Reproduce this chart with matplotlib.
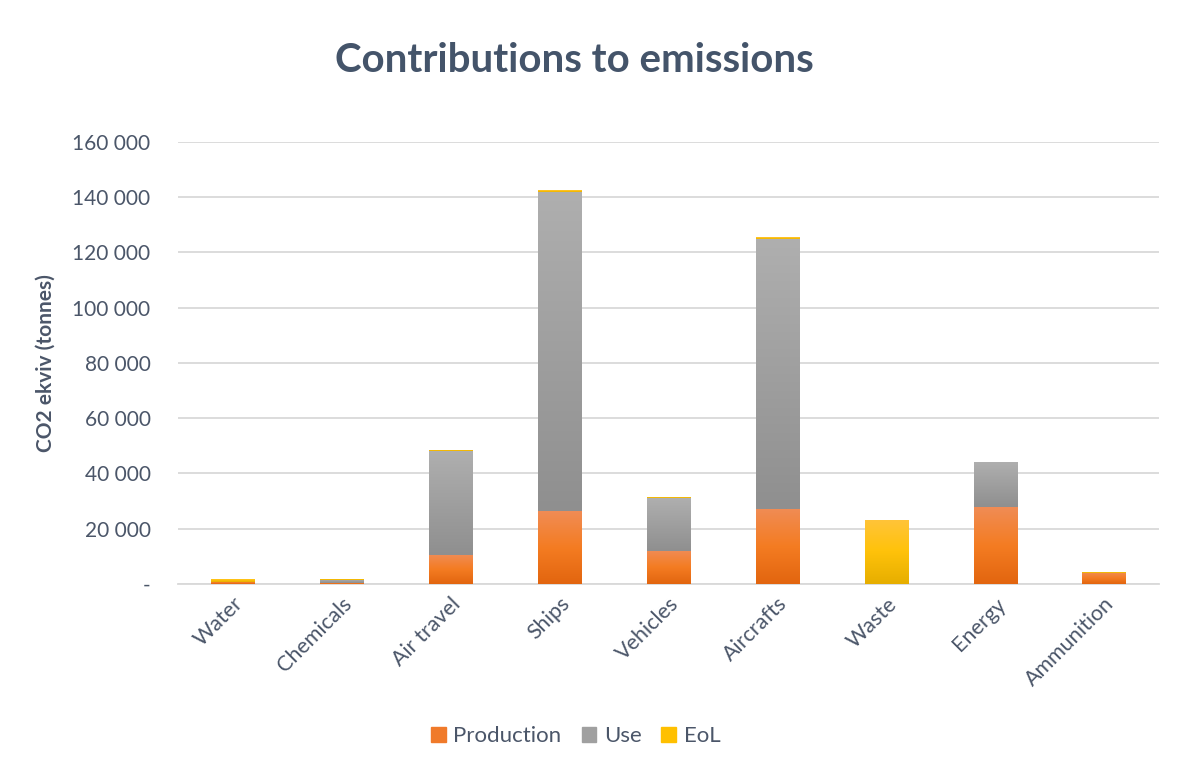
import numpy as np
import matplotlib
matplotlib.use("Agg")
import matplotlib.pyplot as plt
from matplotlib.ticker import FuncFormatter
from matplotlib.colors import LinearSegmentedColormap
from matplotlib.patches import Patch

categories = ["Water", "Chemicals", "Air travel", "Ships", "Vehicles",
              "Aircrafts", "Waste", "Energy", "Ammunition"]
production = [900, 400, 10500, 26400, 12100, 27300, 0, 27800, 4100]
use = [0, 1100, 37600, 115600, 19000, 97600, 0, 16200, 0]
eol = [1100, 500, 500, 500, 400, 500, 23200, 0, 400]

series = ["Production", "Use", "EoL"]
# (bottom, middle, top) colours of the Excel style gradient
grads = {
    "Production": ["#e2650f", "#f47c22", "#f08c55"],
    "Use": ["#8f8f8f", "#9f9f9f", "#afafaf"],
    "EoL": ["#e6ae00", "#ffc20a", "#ffc43a"],
}
solid = {"Production": "#f07a2a", "Use": "#a0a0a0", "EoL": "#ffc000"}
txt_col = "#4b5669"

plt.rcParams['font.family'] = ['Lato', 'DejaVu Sans']

fig = plt.figure(figsize=(11.97, 7.71), dpi=100)
ax = fig.add_axes([0.149, 0.2425, 0.819, 0.5735])

x = np.arange(len(categories))
w = 0.40
bottom = np.zeros(len(categories))
grad = np.linspace(0, 1, 256).reshape(-1, 1)
for name, vals in zip(series, [production, use, eol]):
    vals = np.array(vals, dtype=float)
    bars = ax.bar(x, vals, w, bottom=bottom, color=solid[name], zorder=2,
                  edgecolor="none")
    cmap = LinearSegmentedColormap.from_list(name, grads[name])
    for b in bars:
        h = b.get_height()
        if h <= 0:
            continue
        x0, y0 = b.get_x(), b.get_y()
        im = ax.imshow(grad, cmap=cmap, origin="lower", aspect="auto",
                       extent=[x0, x0 + b.get_width(), y0, y0 + h], zorder=3)
        im.set_clip_path(b)
    bottom += vals

ax.set_xlim(-0.5, len(categories) - 0.5)
ax.set_ylim(0, 160000)
ax.set_yticks(np.arange(0, 160001, 20000))
ax.yaxis.set_major_formatter(FuncFormatter(
    lambda v, p: "-" if v == 0 else f"{int(v):,}".replace(",", " ")))
ax.grid(axis="y", color="#d9d9d9", linewidth=1.3, zorder=0)
ax.set_axisbelow(True)
for s in ["top", "right", "left"]:
    ax.spines[s].set_visible(False)
ax.spines["bottom"].set_color("#d9d9d9")
ax.spines["bottom"].set_linewidth(1.3)
ax.tick_params(length=0, labelsize=15, labelcolor=txt_col)
ax.tick_params(axis="y", pad=20)
ax.tick_params(axis="x", pad=7)
ax.set_xticks(x)
ax.set_xticklabels(categories, rotation=45, ha="right", rotation_mode="anchor",
                   fontsize=15.5)

ax.set_ylabel("CO2 ekviv (tonnes)", fontsize=15, fontweight="bold",
              color=txt_col, labelpad=12)
fig.text(0.480, 0.922, "Contributions to emissions", ha="center", va="center",
         fontsize=29, fontweight="bold", color="#44546a")

handles = [Patch(color=solid[n], label=n) for n in series]
fig.legend(handles=handles, loc="center", bbox_to_anchor=(0.481, 0.045), ncol=3,
           frameon=False, fontsize=16, handlelength=0.65, handleheight=0.65,
           columnspacing=0.9, handletextpad=0.35, labelcolor=txt_col)

fig.savefig("out.png", dpi=100)
